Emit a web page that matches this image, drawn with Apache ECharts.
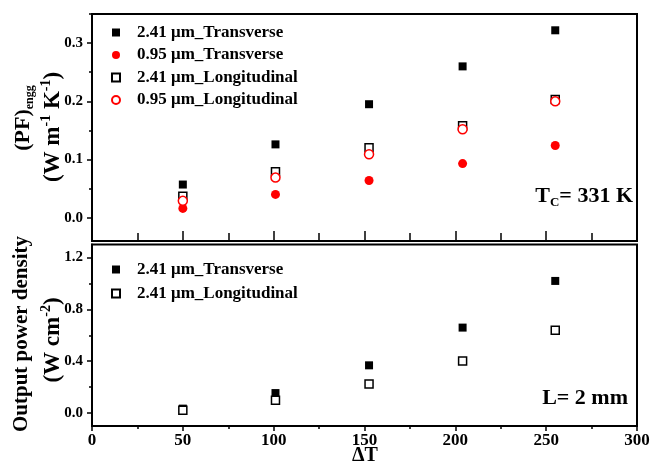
<!DOCTYPE html>
<html>
<head>
<meta charset="utf-8">
<script src="https://cdn.jsdelivr.net/npm/echarts@6/dist/echarts.min.js"></script>
<style>
html,body{margin:0;padding:0;background:#fff;}
#chart{width:653px;height:466px;}
</style>
</head>
<body>
<div id="chart"></div>
<script>
// ---- data ----
const deltaT = [50, 101, 152.5, 204, 255];
const pf241Trans = [0.057, 0.126, 0.195, 0.260, 0.322];
const pf095Trans = [0.016, 0.040, 0.064, 0.093, 0.124];
const pf241Long = [0.037, 0.079, 0.120, 0.158, 0.203];
const pf095Long = [0.029, 0.069, 0.109, 0.152, 0.200];
const pd241Trans = [0.034, 0.154, 0.368, 0.659, 1.019];
const pd241Long = [0.021, 0.098, 0.224, 0.402, 0.639];
const pfTickLabels = [0, 0.1, 0.2, 0.3];
const pfMinorTicks = [0.05, 0.15, 0.25, 0.35];
const pdTickLabels = [0, 0.4, 0.8, 1.2];
const pdMinorTicks = [0.2, 0.6, 1.0];
const names = ['2.41 μm_Transverse', '0.95 μm_Transverse', '2.41 μm_Longitudinal', '0.95 μm_Longitudinal'];

const FONT = "'Liberation Serif', 'Times New Roman', serif";
const RED = '#ff0000';
const pairs = (xs, ys) => xs.map((x, i) => [x, ys[i]]);

const chart = echarts.init(document.getElementById('chart'), null, {renderer: 'canvas'});

const baseText = {fontFamily: FONT, fontWeight: 'bold', color: '#000'};

const option = {
  animation: false,
  backgroundColor: '#fff',
  grid: [
    {left: 92, right: 16, top: 14, height: 227, outerBoundsMode: 'none', containLabel: false,
     show: true, borderColor: '#000', borderWidth: 2, backgroundColor: 'transparent'},
    {left: 92, right: 16, top: 244.5, height: 181.5, outerBoundsMode: 'none', containLabel: false,
     show: true, borderColor: '#000', borderWidth: 2, backgroundColor: 'transparent'}
  ],
  xAxis: [
    {gridIndex: 0, type: 'value', min: 0, max: 300, interval: 50,
     axisLine: {onZero: false, lineStyle: {color: '#000', width: 2}},
     axisTick: {inside: true, length: 10, lineStyle: {color: '#000', width: 1.5}},
     minorTick: {show: true, splitNumber: 2, length: 8, lineStyle: {color: '#000', width: 1.5}},
     axisLabel: {show: false}, splitLine: {show: false}},
    {gridIndex: 1, type: 'value', min: 0, max: 300, interval: 50,
     axisLine: {onZero: false, lineStyle: {color: '#000', width: 2}},
     axisTick: {inside: false, length: 5, lineStyle: {color: '#000', width: 1.5}},
     minorTick: {show: true, splitNumber: 2, length: 3, lineStyle: {color: '#000', width: 1.5}},
     axisLabel: Object.assign({fontSize: 17, margin: 6}, baseText),
     splitLine: {show: false}}
  ],
  yAxis: [
    {gridIndex: 0, type: 'value', min: -0.04, max: 0.35,
     axisLine: {onZero: false, lineStyle: {color: '#000', width: 2}},
     axisTick: {customValues: pfTickLabels, length: 5, lineStyle: {color: '#000', width: 1.5}},
     axisLabel: Object.assign({customValues: pfTickLabels, fontSize: 15, margin: 9, formatter: v => v.toFixed(1)}, baseText),
     splitLine: {show: false}},
    {gridIndex: 0, type: 'value', min: -0.04, max: 0.35, position: 'left',
     axisLine: {show: false, onZero: false},
     axisTick: {customValues: pfMinorTicks, length: 3, lineStyle: {color: '#000', width: 1.5}},
     axisLabel: {show: false}, splitLine: {show: false}},
    {gridIndex: 1, type: 'value', min: -0.1, max: 1.3,
     axisLine: {onZero: false, lineStyle: {color: '#000', width: 2}},
     axisTick: {customValues: pdTickLabels, length: 5, lineStyle: {color: '#000', width: 1.5}},
     axisLabel: Object.assign({customValues: pdTickLabels, fontSize: 15, margin: 9, formatter: v => v.toFixed(1)}, baseText),
     splitLine: {show: false}},
    {gridIndex: 1, type: 'value', min: -0.1, max: 1.3, position: 'left',
     axisLine: {show: false, onZero: false},
     axisTick: {customValues: pdMinorTicks, length: 3, lineStyle: {color: '#000', width: 1.5}},
     axisLabel: {show: false}, splitLine: {show: false}}
  ],
  legend: [
    {data: names, orient: 'vertical', left: 106, top: 19, itemWidth: 8, itemHeight: 8, itemGap: 5.5,
     textStyle: Object.assign({fontSize: 17, padding: [0, 0, 0, 12]}, baseText)},
    {data: [names[0], names[2]], orient: 'vertical', left: 106, top: 256, itemWidth: 8, itemHeight: 8, itemGap: 7,
     textStyle: Object.assign({fontSize: 17, padding: [0, 0, 0, 12]}, baseText)}
  ],
  series: [
    {name: names[0], type: 'scatter', xAxisIndex: 0, yAxisIndex: 0, symbol: 'rect', symbolSize: 8,
     itemStyle: {color: '#000', opacity: 1}, data: pairs(deltaT, pf241Trans)},
    {name: names[1], type: 'scatter', xAxisIndex: 0, yAxisIndex: 0, symbol: 'circle', symbolSize: 9,
     itemStyle: {color: RED, opacity: 1}, data: pairs(deltaT, pf095Trans)},
    {name: names[2], type: 'scatter', xAxisIndex: 0, yAxisIndex: 0, symbol: 'rect', symbolSize: 8,
     itemStyle: {color: '#fff', borderColor: '#000', borderWidth: 1.5, opacity: 1}, data: pairs(deltaT, pf241Long)},
    {name: names[3], type: 'scatter', xAxisIndex: 0, yAxisIndex: 0, symbol: 'circle', symbolSize: 9,
     itemStyle: {color: '#fff', borderColor: RED, borderWidth: 1.5, opacity: 1}, data: pairs(deltaT, pf095Long)},
    {name: names[0], type: 'scatter', xAxisIndex: 1, yAxisIndex: 2, symbol: 'rect', symbolSize: 8,
     itemStyle: {color: '#000', opacity: 1}, data: pairs(deltaT, pd241Trans)},
    {name: names[2], type: 'scatter', xAxisIndex: 1, yAxisIndex: 2, symbol: 'rect', symbolSize: 8,
     itemStyle: {color: '#fff', borderColor: '#000', borderWidth: 1.5, opacity: 1}, data: pairs(deltaT, pd241Long)}
  ],
  graphic: [
    {type: 'text', x: 23, y: 118, rotation: Math.PI / 2, silent: true,
     style: {text: '{m|(PF)}{s|engg}', align: 'center', verticalAlign: 'middle',
       rich: {m: Object.assign({fontSize: 22, lineHeight: 26, verticalAlign: 'middle'}, baseText),
              s: Object.assign({fontSize: 12, lineHeight: 12, verticalAlign: 'bottom'}, baseText)}}},
    {type: 'text', x: 53, y: 127, rotation: Math.PI / 2, silent: true,
     style: {text: '{m|(W m}{p|-1}{m| K}{p|-1}{m|)}', align: 'center', verticalAlign: 'middle',
       rich: {m: Object.assign({fontSize: 23, lineHeight: 28, verticalAlign: 'middle'}, baseText),
              p: Object.assign({fontSize: 14, lineHeight: 10, verticalAlign: 'top'}, baseText)}}},
    {type: 'text', x: 22, y: 334, rotation: Math.PI / 2, silent: true,
     style: {text: 'Output power density', align: 'center', verticalAlign: 'middle',
       fontSize: 21, fontFamily: FONT, fontWeight: 'bold', fill: '#000'}},
    {type: 'text', x: 53, y: 340, rotation: Math.PI / 2, silent: true,
     style: {text: '{m|(W cm}{p|-2}{m|)}', align: 'center', verticalAlign: 'middle',
       rich: {m: Object.assign({fontSize: 23, lineHeight: 28, verticalAlign: 'middle'}, baseText),
              p: Object.assign({fontSize: 14, lineHeight: 10, verticalAlign: 'top'}, baseText)}}},
    {type: 'text', x: 633, y: 196, silent: true,
     style: {text: '{m|T}{s|C}{m|= 331 K}', align: 'right', verticalAlign: 'middle',
       rich: {m: Object.assign({fontSize: 22, lineHeight: 26, verticalAlign: 'middle'}, baseText),
              s: Object.assign({fontSize: 13, lineHeight: 12, verticalAlign: 'bottom'}, baseText)}}},
    {type: 'text', x: 628, y: 398, silent: true,
     style: {text: 'L= 2 mm', align: 'right', verticalAlign: 'middle',
       fontSize: 22, fontFamily: FONT, fontWeight: 'bold', fill: '#000'}},
    {type: 'text', x: 365, y: 456, silent: true,
     style: {text: 'ΔT', align: 'center', verticalAlign: 'middle',
       fontSize: 20, fontFamily: FONT, fontWeight: 'bold', fill: '#000'}}
  ]
};
chart.setOption(option);
</script>
</body>
</html>
